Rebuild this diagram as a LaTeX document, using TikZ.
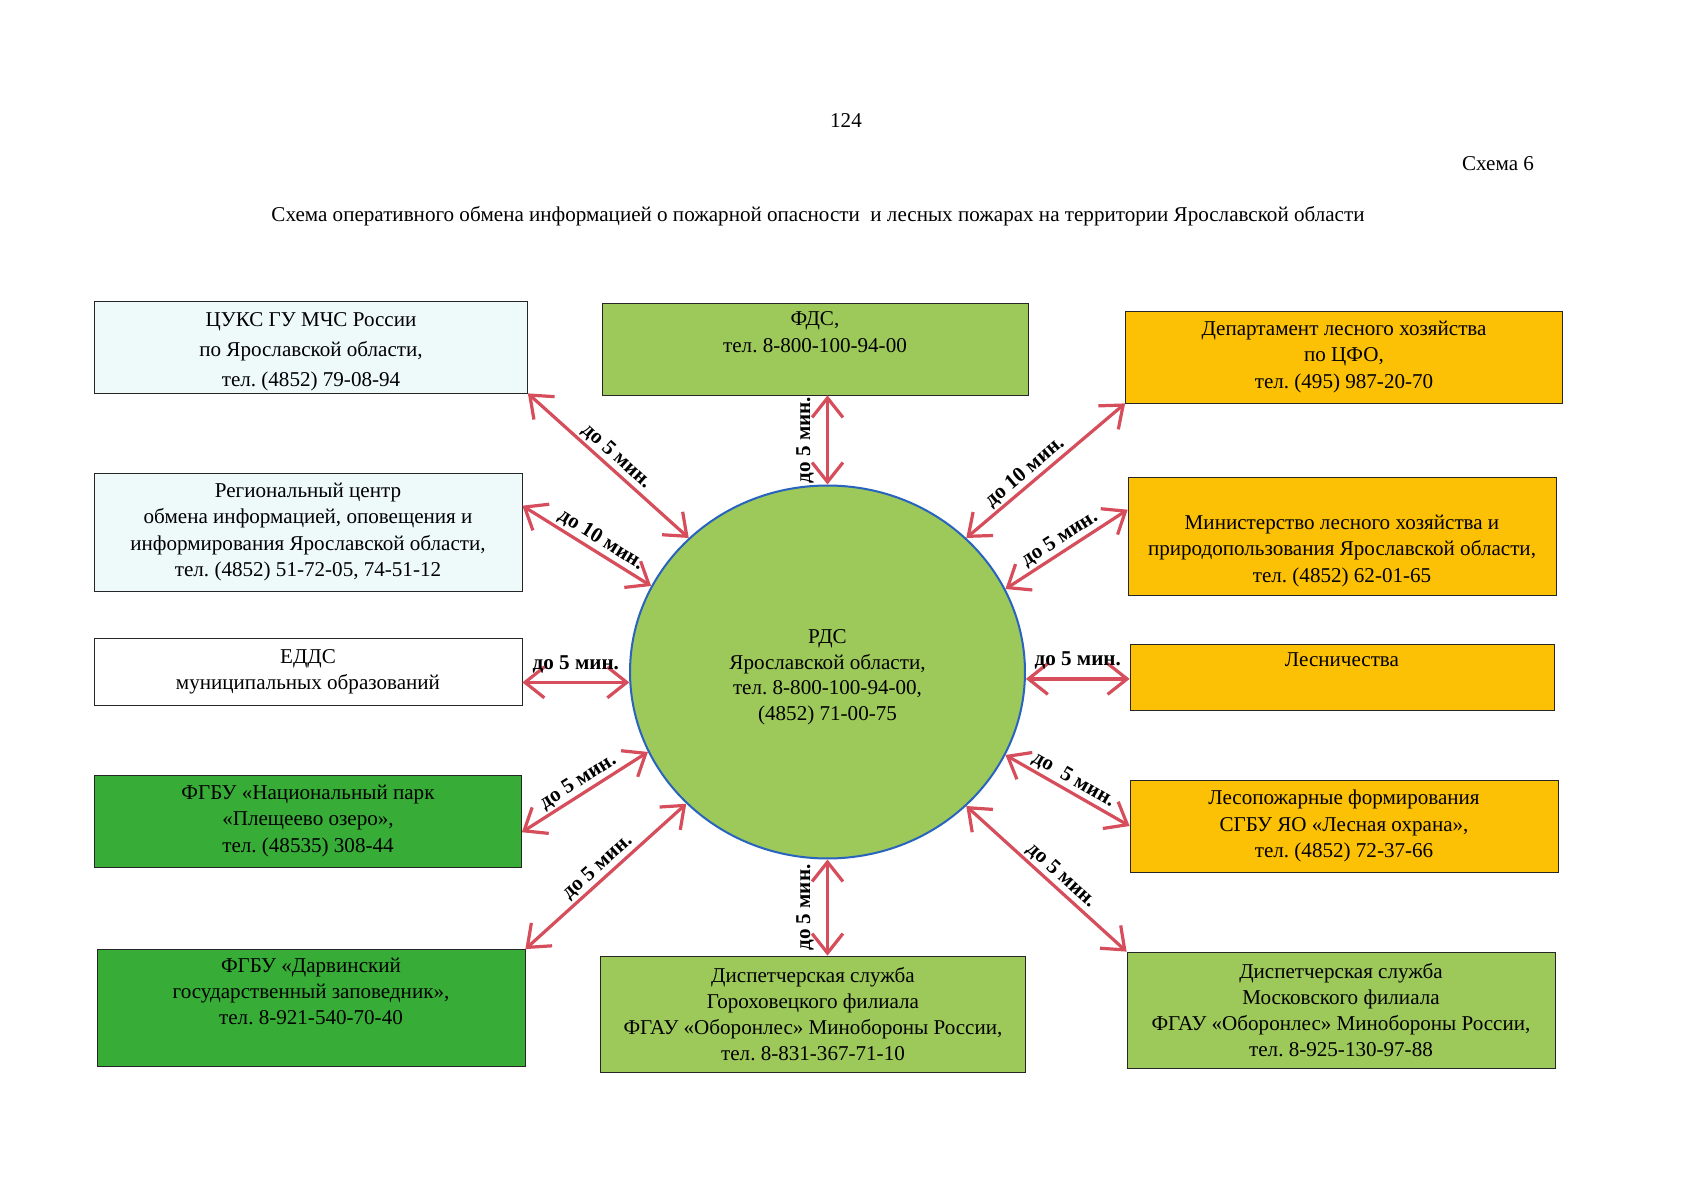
\documentclass[tikz,border=0pt]{standalone}
\usepackage{fontspec}
\setmainfont{Liberation Serif}
\usetikzlibrary{arrows.meta,shapes.geometric}
\definecolor{pale}{RGB}{238,249,249}
\definecolor{lime}{RGB}{157,200,90}
\definecolor{forest}{RGB}{55,172,55}
\definecolor{gold}{RGB}{252,192,5}
\definecolor{ring}{RGB}{40,100,190}
\definecolor{arrowred}{RGB}{214,78,92}
\newcommand\px{0.175mm}
\frenchspacing
\tikzset{
  >={Straight Barb[length=3.4mm,width=5.4mm]},
  box/.style={draw=black!85,fill=#1,thin,align=center,inner sep=2pt,
    font=\fontsize{10.5}{13}\selectfont},
  box/.default=white,
  dims/.style 2 args={minimum width=#1*\px,minimum height=#2*\px},
  link/.style={<->,draw=arrowred,line width=1.6pt},
  tag/.style={font=\bfseries\fontsize{10.5}{12}\selectfont,inner sep=1pt},
  head/.style={font=\fontsize{10.5}{13}\selectfont},
}
\begin{document}
\begin{tikzpicture}[x=0.0175cm,y=-0.0175cm]
  \fill[white] (0,0) rectangle (1697,1200);
  \useasboundingbox (0,0) rectangle (1697,1200);
  % header
  \node[head] (page) at (846,121) {124};
  \node[head,anchor=east] (scheme) at (1541,164) {Схема 6};
  \node[head] (title) at (818,216) {Схема оперативного обмена информацией о пожарной опасности\ \ и лесных пожарах на территории Ярославской области};
  % centre
  \node[ellipse,draw=ring,fill=lime,line width=1pt,minimum width=395*\px,minimum height=373*\px,
    align=center,font=\fontsize{10.5}{12.7}\selectfont] (rds) at (827.5,672)
    {\rule{0pt}{12pt}РДС\\Ярославской области,\\тел. 8-800-100-94-00,\\(4852) 71-00-75};
  % left column
  \node[box=pale,dims={433}{92},inner sep=0pt] (cuks) at (311,347) {\rule{0pt}{12pt}ЦУКС ГУ МЧС России\\[2pt]по Ярославской области,\\[2pt]тел. (4852) 79-08-94};
  \node[box=pale,dims={428}{118}] (reg) at (308,532) {Региональный центр\\обмена информацией, оповещения и\\информирования Ярославской области,\\тел. (4852) 51-72-05, 74-51-12};
  \node[box,dims={428}{67}] (edds) at (308,672) {ЕДДС\\муниципальных образований};
  \node[box=forest,dims={427}{92}] (nat) at (308,821) {ФГБУ «Национальный парк\\«Плещеево озеро»,\\тел. (48535) 308-44};
  \node[box=forest,dims={428}{117}] (darw) at (311,1008) {ФГБУ «Дарвинский\\государственный заповедник»,\\тел. 8-921-540-70-40\\\strut};
  % middle
  \node[box=lime,dims={426}{92}] (fds) at (815,349) {ФДС,\\тел. 8-800-100-94-00\\\strut};
  \node[box=lime,dims={425}{116}] (gor) at (813,1014) {Диспетчерская служба\\Гороховецкого филиала\\ФГАУ «Оборонлес» Минобороны России,\\тел. 8-831-367-71-10};
  % right column
  \node[box=gold,dims={437}{92}] (dep) at (1344,357) {Департамент лесного хозяйства\\по ЦФО,\\тел. (495) 987-20-70};
  \node[box=gold,dims={428}{118}] (min) at (1342,536) {\strut\\Министерство лесного хозяйства и\\природопользования Ярославской области,\\тел. (4852) 62-01-65};
  \node[box=gold,dims={424}{66}] (lesn) at (1342,677) {Лесничества\\\strut};
  \node[box=gold,dims={428}{92}] (lpf) at (1344,826) {Лесопожарные формирования\\СГБУ ЯО «Лесная охрана»,\\тел. (4852) 72-37-66};
  \node[box=lime,dims={428}{116}] (mosk) at (1341,1010) {Диспетчерская служба\\Московского филиала\\ФГАУ «Оборонлес» Минобороны России,\\тел. 8-925-130-97-88};
  % links
  \draw[link] (cuks.south east) -- node[tag,sloped,above]{до 5 мин.} (rds.136);
  \draw[link] (rds.north) -- node[tag,sloped,above=5pt]{до 5 мин.} (rds.north |- fds.south);
  \draw[link] (rds.44) -- node[tag,sloped,above,pos=0.42]{до 10 мин.} (dep.south west);
  \draw[link] (reg.7) -- node[tag,sloped,above,pos=0.56]{до 10 мин.} (rds.154);
  \draw[link] (rds.25) -- node[tag,sloped,above]{до 5 мин.} (min.173);
  \draw[link] (edds.east |- rds.183) -- node[tag,above=3pt]{до 5 мин.} (rds.183);
  \draw[link] (rds.-2) -- node[tag,above=3pt]{до 5 мин.} (rds.-2 -| lesn.west);
  \draw[link] (nat.-3) -- node[tag,sloped,above]{до 5 мин.} (rds.204);
  \draw[link] (rds.335) -- node[tag,sloped,above]{до\ \ 5 мин.} (lpf.west);
  \draw[link] (darw.north east) -- node[tag,sloped,above]{до 5 мин.} (rds.223);
  \draw[link] (rds.south |- gor.north) -- node[tag,sloped,above=5pt]{до 5 мин.} (rds.south);
  \draw[link] (rds.316) -- node[tag,sloped,above,pos=0.54]{до 5 мин.} (mosk.north west);
\end{tikzpicture}
\end{document}
